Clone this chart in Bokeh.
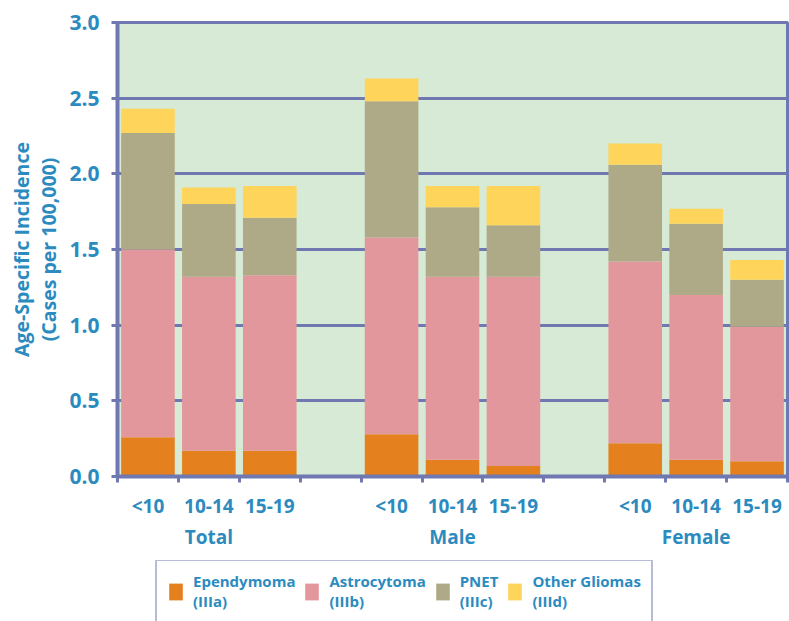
from bokeh.plotting import figure
from bokeh.layouts import column
from bokeh.models import (Range1d, LinearAxis, FixedTicker, Legend, LegendItem,
                          NumeralTickFormatter, ColumnDataSource)
from bokeh.embed import file_html
from bokeh.resources import INLINE

# ---- data ----
groups = ["Total", "Male", "Female"]
ages = ["<10", "10-14", "15-19"]
ependymoma = [0.26, 0.17, 0.17, 0.28, 0.11, 0.07, 0.22, 0.11, 0.10]
astrocytoma = [1.24, 1.15, 1.16, 1.30, 1.21, 1.25, 1.20, 1.09, 0.89]
pnet = [0.77, 0.48, 0.38, 0.90, 0.46, 0.34, 0.64, 0.47, 0.31]
other_gliomas = [0.16, 0.11, 0.21, 0.15, 0.14, 0.26, 0.14, 0.10, 0.13]
series_names = ["ependymoma", "astrocytoma", "pnet", "other_gliomas"]
series_labels = ["Ependymoma\n(IIIa)", "Astrocytoma\n(IIIb)", "PNET\n(IIIc)", "Other Gliomas\n(IIId)"]
y_ticks = [0.0, 0.5, 1.0, 1.5, 2.0, 2.5, 3.0]

# ---- style ----
colors = ["#e5801f", "#e2979d", "#aeaa87", "#fed45a"]
line_c = "#6f78b0"
text_c = "#2b8bbf"
font = "Open Sans"

# slot layout: each group has len(ages) slots, groups separated by one empty slot
per_group = len(ages) + 1
n_slots = len(groups) * per_group - 1
x_pos = [gi * per_group + ai + 0.5 for gi in range(len(groups)) for ai in range(len(ages))]
age_labels = [a for g in groups for a in ages]
group_pos = [gi * per_group + len(ages) / 2 for gi in range(len(groups))]

source = ColumnDataSource(dict(x=x_pos, ependymoma=ependymoma, astrocytoma=astrocytoma,
                               pnet=pnet, other_gliomas=other_gliomas))

p = figure(x_range=Range1d(0, n_slots), y_range=Range1d(0, 3), width=789, height=560,
           output_backend="svg", toolbar_location=None, x_axis_location=None,
           min_border_top=22, min_border_left=117, min_border_right=2, min_border_bottom=84)
p.background_fill_color = "#d6ead6"
p.border_fill_color = "white"
p.outline_line_color = line_c
p.outline_line_width = 3

renderers = p.vbar_stack(series_names, x="x", width=0.88, color=colors, line_color=None, source=source)

# grid
p.xgrid.grid_line_color = None
p.ygrid.ticker = FixedTicker(ticks=y_ticks)
p.ygrid.grid_line_color = line_c
p.ygrid.grid_line_width = 3

# y axis
ya = p.yaxis[0]
ya.ticker = FixedTicker(ticks=y_ticks)
ya.formatter = NumeralTickFormatter(format="0.0")
ya.axis_line_color = line_c
ya.axis_line_width = 4
ya.major_tick_line_color = line_c
ya.major_tick_line_width = 3
ya.major_tick_out = 6
ya.major_tick_in = 0
ya.minor_tick_line_color = None
ya.major_label_text_font = font
ya.major_label_text_font_style = "bold"
ya.major_label_text_font_size = "21px"
ya.major_label_text_color = text_c
ya.major_label_standoff = 12
ya.axis_label = "Age-Specific Incidence\n(Cases per 100,000)"
ya.axis_label_text_font = font
ya.axis_label_text_font_style = "bold"
ya.axis_label_text_font_size = "19.5px"
ya.axis_label_text_color = text_c
ya.axis_label_text_line_height = 1.0
ya.axis_label_standoff = 4

# x axis: labels at bar centres, tick marks (minor) at slot boundaries
age_axis = LinearAxis(ticker=FixedTicker(ticks=x_pos, minor_ticks=list(range(n_slots + 1))),
                      major_label_overrides={x: lab for x, lab in zip(x_pos, age_labels)},
                      axis_line_color=line_c, axis_line_width=4,
                      major_tick_line_color=None,
                      minor_tick_line_color=line_c, minor_tick_line_width=3,
                      minor_tick_out=6, minor_tick_in=0,
                      major_label_text_font=font, major_label_text_font_style="bold",
                      major_label_text_font_size="19px", major_label_text_color=text_c,
                      major_label_standoff=10)
p.add_layout(age_axis, "below")

group_axis = LinearAxis(ticker=FixedTicker(ticks=group_pos),
                        major_label_overrides={x: g for x, g in zip(group_pos, groups)},
                        axis_line_color=None, major_tick_line_color=None, minor_tick_line_color=None,
                        major_tick_out=0,
                        major_label_text_font=font, major_label_text_font_style="bold",
                        major_label_text_font_size="19px", major_label_text_color=text_c,
                        major_label_standoff=2)
p.add_layout(group_axis, "below")

# ---- legend panel (separate strip under the chart; its frame aligns with the chart's) ----
lg = figure(x_range=Range1d(0, n_slots), y_range=Range1d(10, 11), width=789, height=61,
            output_backend="svg", toolbar_location=None, x_axis_location=None,
            y_axis_location=None, min_border=0)
lg.outline_line_color = None
lg.xgrid.grid_line_color = None
lg.ygrid.grid_line_color = None
# same stacked series (they fall outside this strip's view, only their legend swatches show)
lg_renderers = lg.vbar_stack(series_names, x="x", width=0.88, color=colors, line_color=None, source=source)

legend = Legend(items=[LegendItem(label=lab, renderers=[r]) for lab, r in zip(series_labels, lg_renderers)],
                orientation="horizontal", location=(38, -2),
                border_line_color=line_c, border_line_width=2, background_fill_color="white",
                background_fill_alpha=1.0,
                label_text_font=font, label_text_font_style="bold", label_text_font_size="15px",
                label_text_color=text_c, label_text_line_height=1.1,
                glyph_width=17, glyph_height=21,
                label_standoff=9, spacing=8, padding=10, margin=0)
lg.add_layout(legend, "center")

layout = column(p, lg, spacing=0)
open("out.html", "w").write(file_html(layout, INLINE))
